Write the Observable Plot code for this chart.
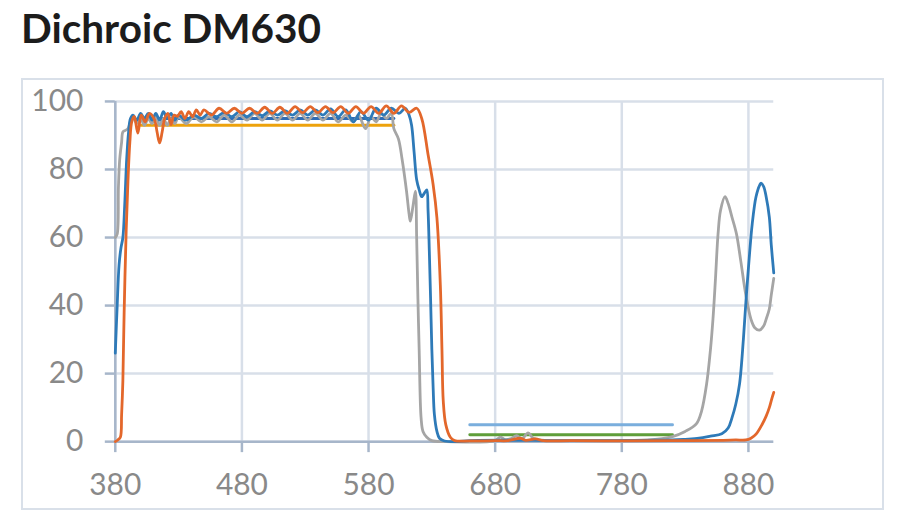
<!DOCTYPE html>
<html>
<head>
<meta charset="utf-8">
<script src="https://cdn.jsdelivr.net/npm/d3@7"></script>
<script src="https://cdn.jsdelivr.net/npm/@observablehq/plot@0.6"></script>
<style>
  html, body { margin: 0; padding: 0; background: #fff; }
  body { width: 900px; height: 529px; position: relative; overflow: hidden; font-family: Lato, "Open Sans", sans-serif; }
  #title { position: absolute; left: 21px; top: 3px; font: 700 40.5px Lato, sans-serif; color: #1c1c1c; letter-spacing: 0px; }
  #box { position: absolute; left: 21px; top: 78px; width: 859px; height: 428px; border: 2px solid #d9e0e9; }
  #box svg { position: absolute; left: -1px; top: -1px; }
</style>
</head>
<body>
<div id="title">Dichroic DM630</div>
<div id="box"></div>
<script>
// Tick values
const xTicks = [380, 480, 580, 680, 780, 880];
const yTicks = [0, 20, 40, 60, 80, 100];

// Blue curve
const blueX = [380,381.5,383,384.5,386,387.5,389,390.5,392,394,397,400,403,406,409,412,415,418,421,424,427,430,436,442,448,454,460,466,472,478,484,490,496,502,508,514,520,526,532,538,544,550,556,562,568,574,580,586,592,598,604,609,612,614,616,618,620,622,624,626,627,628,629,630,631,632,634,636,640,650,660,700,720,760,800,820,830,841,850,859,864,867,870,873,876,878,880,883,886,889,890,892,894,896.5,898,900];
const blueY = [26,40,52,57,60,70,83,91,95,96,94.5,96.5,95,96.5,94.5,96.5,94.5,97,95,96.5,94.5,96,94.5,96,95,96.5,95.5,96.8,95.5,97,95.5,97,95.8,97.2,96,97.3,96,97.5,96,97.5,96,97.8,95.5,97.5,94,97,94.5,98,96,98,96.5,98,96,93,85,77,74,72,73,74,68,56,42,27,16,8,3,1,0.2,0,0.3,0.4,0.3,0.3,0.4,0.5,0.7,1,1.6,2.3,4,7,11,17,30,41,51,64,72,75.5,76,75,72,66,58,49.6];

// Grey curve
const greyX = [380,381.5,382.5,383.5,385,386,388,390,392,394,397,400,403,406,409,412,415,418,421,424,427,430,436,442,448,454,460,466,472,478,484,490,496,502,508,514,520,526,532,538,544,550,556,562,568,572,577.6,582,586,590,594,598,600,603.6,606.5,610,612,613,615,617,618,619,620,621.5,623,626,630,640,680,684,688,692,697,701,706,710,715,730,760,800,820,830,839,843,847,850,852,854,856,858,861.5,864,867,870.6,874,878,882,885,888.7,892,894,896.5,898,900];
const greyY = [60,61,75,83,88,91,91.5,92,94,95.5,93.5,95,93,95,93.5,95.5,93,95,93,95,93.5,95.5,93.5,95.5,94,95.5,94,96,94,96,94.5,96.5,94.5,96.5,94.5,96.5,94.5,96.5,94.5,96.5,94.5,96.5,94,96,94,96,92,95.5,94,96.5,95,96.5,92,89,83,73.6,67,64.8,69,73.6,60,42,26.7,7,3,1.3,0.3,0,0.3,1.3,0.6,0.8,1.8,0.8,2.6,1,0.5,0.3,0.3,0.5,1.5,3,5.3,9,17,27,36,48,61,68,72,70,66,61,53,43,36,33.5,32.8,34,36,39,43,48];

// Orange curve
const orangeX = [380,382,384,385,386,387,388.6,390,391.5,393,395,397.8,400.5,403.6,407,411,413,415,417,419,421.5,424,426.5,429,432,435,438,441,444,447,450,456,462,468,474,480,486,492,498,504,510,516,522,528,534,540,546,552,558,564,570,576,582,588,594,600,606,612,618,622,627,631,634,636.7,638,639,641,644.6,648,660,680,690,700,704,712,718,740,780,820,860,870,878,882,886,891,894,896.5,898,900];
const orangeY = [0,0.5,1.3,8,18,38,62,76.5,88,94,95.6,90.7,96,94,96.5,94.6,91,87.8,91,95,96.5,93.2,96,95.6,97,95,97,95.5,97.5,96,97.5,96,98,96.5,98,96.5,98,96.5,98.3,96.5,98.3,96.5,98.5,96.7,98.5,96.7,98.5,96.7,98.5,96.5,98.5,96.5,98.5,96.5,98.7,96.5,98.7,96.8,98,95,84.4,75.6,65.8,46,26.7,12,5,1.3,0.3,0.2,0.3,0.3,1,0.4,0.8,0.3,0.3,0.2,0.3,0.4,0.5,0.5,1,2.2,5.2,7.5,10,12,14.5];

// Flat reference segments
const darkBlueX = [400, 600], darkBlueY = [95, 95];
const goldX = [400, 600], goldY = [93, 93];
const lightBlueX = [660, 820], lightBlueY = [5, 5];
const greenX = [660, 820], greenY = [2, 2];

const pts = (xs, ys) => xs.map((x, i) => ({x, y: ys[i]}));

const gridColor = "#d8dfe9";
const axisColor = "#a7b6ca";
const labelColor = "#898989";

const chart = Plot.plot({
  width: 861,
  height: 430,
  marginLeft: 93,
  marginRight: 108,
  marginTop: 22,
  marginBottom: 67,
  x: {domain: [380, 900]},
  y: {domain: [0, 100]},
  style: {fontFamily: "Lato, sans-serif", background: "transparent", overflow: "visible"},
  marks: [
    Plot.gridX(xTicks, {stroke: gridColor, strokeOpacity: 1, strokeWidth: 2.5}),
    Plot.gridY(yTicks, {stroke: gridColor, strokeOpacity: 1, strokeWidth: 2.5}),
    Plot.ruleX([380], {stroke: axisColor, strokeWidth: 2.5}),
    Plot.ruleY([0], {stroke: axisColor, strokeWidth: 2.5}),
    Plot.axisX(xTicks, {tickSize: 11, tickPadding: 21, stroke: axisColor, strokeWidth: 2.5, fill: labelColor, fontSize: 30, tickFormat: d => String(d), label: null}),
    Plot.axisY(yTicks, {tickSize: 10, tickPadding: 22, stroke: axisColor, strokeWidth: 2.5, fill: labelColor, fontSize: 30, tickFormat: d => String(d), label: null}),
    Plot.line(pts(lightBlueX, lightBlueY), {x: "x", y: "y", stroke: "#7aaedd", strokeWidth: 3}),
    Plot.line(pts(greenX, greenY), {x: "x", y: "y", stroke: "#5f9e3a", strokeWidth: 3}),
    Plot.line(pts(darkBlueX, darkBlueY), {x: "x", y: "y", stroke: "#2f6cb5", strokeWidth: 3}),
    Plot.line(pts(goldX, goldY), {x: "x", y: "y", stroke: "#eda20c", strokeWidth: 3}),
    Plot.line(pts(greyX, greyY), {x: "x", y: "y", stroke: "#a5a5a5", strokeWidth: 2.8, curve: "catmull-rom"}),
    Plot.line(pts(blueX, blueY), {x: "x", y: "y", stroke: "#2e7ab8", strokeWidth: 2.8, curve: "catmull-rom"}),
    Plot.line(pts(orangeX, orangeY), {x: "x", y: "y", stroke: "#e3672b", strokeWidth: 2.8, curve: "catmull-rom"})
  ]
});
document.getElementById("box").appendChild(chart);
</script>
</body>
</html>
